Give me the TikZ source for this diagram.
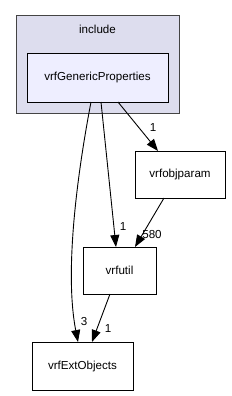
\documentclass[tikz,border=0pt]{standalone}
\usepackage{fontspec}
\setmainfont{Liberation Sans}
\usetikzlibrary{arrows.meta}
\definecolor{clusterfill}{HTML}{DDDDEE}
\definecolor{clusterdraw}{HTML}{444444}
\definecolor{nodefill}{HTML}{EEEEFF}
\begin{document}
\begin{tikzpicture}[x=1pt,y=-1pt,
  dirbox/.style={draw=black,line width=1pt,fill=white,inner sep=0pt,font=\fontsize{11.6}{13}\selectfont},
  dep/.style={draw=black,line width=0.9pt,-{Triangle[length=12pt,width=9pt]}},
  lab/.style={font=\fontsize{11.6}{13}\selectfont,inner sep=0pt}]
\useasboundingbox (0,0) rectangle (231,396);
\fill[white] (0,0) rectangle (231,396);
\draw[fill=clusterfill,draw=clusterdraw,line width=1pt] (16,16) rectangle (179,113);
\node[lab] (inc) at (97.5,29) {include};
\node[dirbox,fill=nodefill,minimum width=141pt,minimum height=48pt] (gp) at (97.5,78) {vrfGenericProperties};
\node[dirbox,minimum width=90pt,minimum height=47pt] (op) at (180,174.5) {vrfobjparam};
\node[dirbox,minimum width=73pt,minimum height=47pt] (ut) at (119.5,270.5) {vrfutil};
\node[dirbox,minimum width=101pt,minimum height=48pt] (ext) at (82.5,366) {vrfExtObjects};
\coordinate (gpA) at (118,102);
\coordinate (gpB) at (101,102);
\coordinate (gpC) at (91,102);
\coordinate (opT) at (158,151);
\coordinate (utT) at (116,247);
\coordinate (extT) at (78,342);
\coordinate (opB) at (164,198);
\coordinate (utT2) at (135,247);
\coordinate (utB) at (110,294);
\coordinate (extT2) at (92,342);
\draw[dep] (gpA) -- (opT);
\draw[dep] (gpB) -- (utT);
\draw[dep] (gpC) .. controls (78,170) and (64,270) .. (extT);
\draw[dep] (opB) -- (utT2);
\draw[dep] (utB) -- (extT2);
\node[lab] (l1) at (153,128) {1};
\node[lab] (l2) at (123,227) {1};
\node[lab] (l3) at (84,322) {3};
\node[lab] (l4) at (152,235) {580};
\node[lab] (l5) at (108,329) {1};
\end{tikzpicture}
\end{document}
